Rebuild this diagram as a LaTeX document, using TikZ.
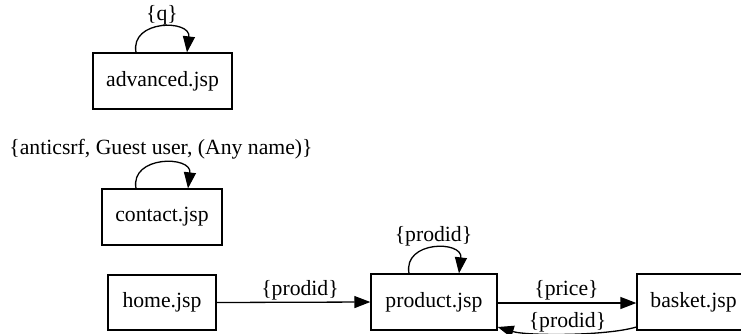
\documentclass[tikz,border=0pt]{standalone}
\usepackage{fontspec}
\setmainfont{Liberation Serif}
\usetikzlibrary{arrows.meta}
\begin{document}
\begin{tikzpicture}[x=1pt,y=-1pt,
  page/.style={draw,line width=1.3pt,rectangle,inner sep=0pt,font=\fontsize{21.7}{26}\selectfont},
  lbl/.style={inner sep=0pt,font=\fontsize{21.7}{26}\selectfont},
  conn/.style={line width=1.3pt,-{Triangle[length=16pt,width=12pt]}}]
\useasboundingbox (0,0) rectangle (741,333);
\node[page,minimum width=139pt,minimum height=56pt] (adv) at (162.5,81) {advanced.jsp};
\node[page,minimum width=120pt,minimum height=56pt] (contact) at (162,217) {contact.jsp};
\node[page,minimum width=108pt,minimum height=55pt] (home) at (162,302.5) {home.jsp};
\node[page,minimum width=126pt,minimum height=56pt] (product) at (434,302) {product.jsp};
\node[page,minimum width=113pt,minimum height=56pt] (basket) at (693.5,302) {basket.jsp};
\node[lbl] (lq) at (162,15) {\{q\}};
\node[lbl] (lc) at (161,149) {\{anticsrf, Guest user, (Any name)\}};
\node[lbl] (lp) at (433.5,236) {\{prodid\}};
\node[lbl] (lhp) at (300,290) {\{prodid\}};
\node[lbl] (lpb) at (566.5,290.5) {\{price\}};
\node[lbl] (lbp) at (567.5,322) {\{prodid\}};
\draw[conn] ([xshift=-26.5pt]adv.north) .. controls +(-6,-33) and +(4,-33) .. ([xshift=24.5pt]adv.north);
\draw[conn] ([xshift=-26pt]contact.north) .. controls +(-6,-33) and +(4,-33) .. ([xshift=26pt]contact.north);
\draw[conn] ([xshift=-25pt]product.north) .. controls +(-6,-33) and +(4,-33) .. ([xshift=25pt]product.north);
\draw[conn] (home.east) -- (product.west);
\draw[conn] ([yshift=-1pt]product.east) -- ([yshift=-1pt]basket.west);
\draw[conn] ([yshift=-25pt]basket.west) .. controls +(-30,9) and +(30,9) .. ([yshift=-25pt]product.east);
\end{tikzpicture}
\end{document}
